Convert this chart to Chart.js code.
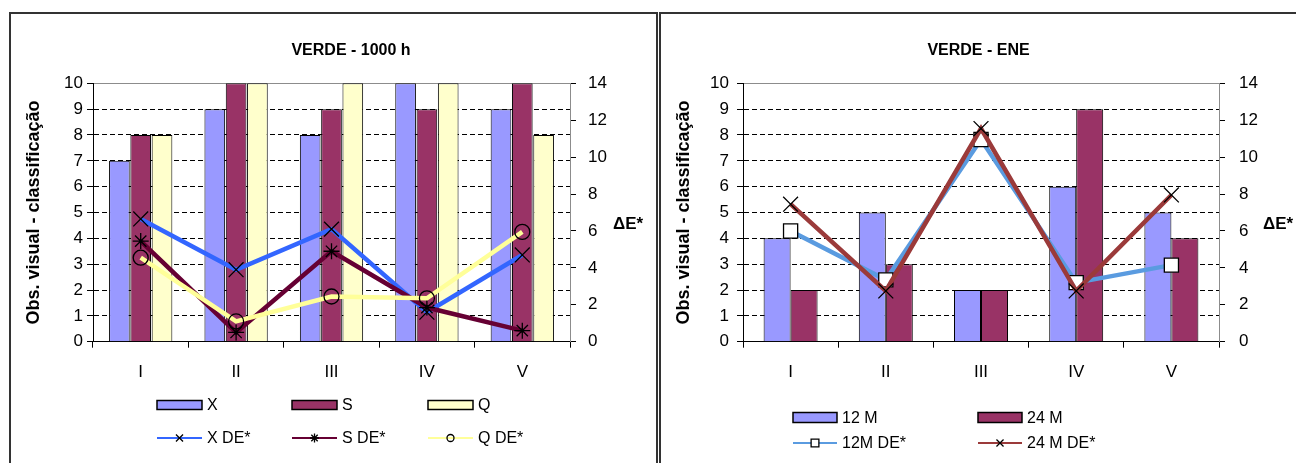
<!DOCTYPE html>
<html><head><meta charset="utf-8">
<script src="https://cdn.jsdelivr.net/npm/chart.js@4.4.1/dist/chart.umd.min.js"></script>
<style>
html,body{margin:0;padding:0;background:#fff;width:1296px;height:463px;overflow:hidden;position:relative}
.frame{position:absolute;top:12px;height:470px;border-top:2px solid #333;border-left:2px solid #333;border-right:2px solid #333;box-sizing:border-box}
canvas{position:absolute}
</style></head><body>
<div class="frame" style="left:9px;width:649px"></div>
<div class="frame" style="left:659px;width:700px"></div>
<canvas id="c1" width="644" height="449" style="left:11px;top:14px"></canvas>
<canvas id="c2" width="635" height="449" style="left:661px;top:14px"></canvas>
<script>
// ---- data ----
const categories = ['I', 'II', 'III', 'IV', 'V'];
const leftTitle = 'VERDE - 1000 h';
const rightTitle = 'VERDE - ENE';
const leftBarX = [7, 9, 8, 10, 9];
const leftBarS = [8, 10, 9, 9, 10];
const leftBarQ = [8, 10, 10, 10, 8];
const leftDeX = [6.65, 3.9, 6.1, 1.6, 4.7];
const leftDeS = [5.45, 0.5, 4.9, 1.85, 0.6];
const leftDeQ = [4.55, 1.1, 2.45, 2.35, 5.95];
const rightBar12 = [4, 5, 2, 6, 5];
const rightBar24 = [2, 3, 2, 9, 4];
const rightDe12 = [6.0, 3.35, 10.95, 3.2, 4.15];
const rightDe24 = [7.45, 2.75, 11.55, 2.75, 7.95];
const obsMax = 10, obsStep = 1;
const deMax = 14, deStep = 2;
const yTitle = 'Obs. visual - classificação';
const deTitle = 'ΔE*';

const FONT = '"Liberation Sans", Arial, Helvetica, sans-serif';

function drawMarker(ctx, style, x, y, r, bg) {
  if (Chart.helpers && Chart.helpers.drawPoint) {
    ctx.fillStyle = bg || 'transparent';
    Chart.helpers.drawPoint(ctx, {pointStyle: style, radius: r, borderWidth: ctx.lineWidth, rotation: 0}, x, y);
  }
}

const deco = {
  id: 'deco',
  afterDraw(chart, args, opts) {
    const ctx = chart.ctx;
    ctx.save();
    ctx.fillStyle = '#000';
    ctx.font = 'bold 17px ' + FONT;
    ctx.textBaseline = 'middle';
    ctx.textAlign = 'left';
    ctx.fillText(opts.rightTitle, opts.rtX, opts.rtY);
    ctx.font = '16px ' + FONT;
    opts.items.forEach(it => {
      const ds = chart.data.datasets[it.index];
      const x = it.x, y = it.y, w = opts.boxW, h = opts.boxH;
      if (ds.type === 'line') {
        ctx.strokeStyle = ds.borderColor;
        ctx.lineWidth = 2;
        ctx.beginPath(); ctx.moveTo(x, y); ctx.lineTo(x + w, y); ctx.stroke();
        ctx.strokeStyle = '#000';
        ctx.lineWidth = 1.3;
        drawMarker(ctx, ds.pointStyle, x + w / 2, y, it.r, ds.pointBackgroundColor);
      } else {
        ctx.fillStyle = ds.backgroundColor;
        ctx.fillRect(x, y - h / 2, w, h);
        ctx.strokeStyle = '#000';
        ctx.lineWidth = 1.5;
        ctx.strokeRect(x, y - h / 2, w, h);
      }
      ctx.fillStyle = '#000';
      ctx.fillText(ds.label, x + w + 5, y + 1);
    });
    ctx.restore();
  }
};

function makeOptions(cfg) {
  return {
    responsive: false, animation: false, devicePixelRatio: 1,
    events: [],
    layout: {padding: {left: cfg.padLeft, right: 0, top: 0, bottom: 0}},
    plugins: {
      legend: {display: false},
      tooltip: {enabled: false},
      title: {display: true, text: cfg.title, color: '#000',
        font: {family: FONT, size: 16, weight: 'bold'}, padding: {top: 27.4, bottom: 22.7}},
      deco: cfg.deco
    },
    scales: {
      x: {
        type: 'category', offset: true,
        grid: {offset: true, drawOnChartArea: false, drawTicks: true, tickLength: 6, tickColor: '#000', color: '#000'},
        border: {color: '#000', width: 1},
        ticks: {color: '#000', font: {family: FONT, size: 17}, padding: 14.5, maxRotation: 0},
        afterFit(s) { s.height = 121.3; }
      },
      y: {
        position: 'left', min: 0, max: obsMax,
        ticks: {stepSize: obsStep, color: '#000', font: {family: FONT, size: 17}, padding: cfg.yPad},
        grid: {color: c => (c.tick && c.tick.value === obsMax) ? '#8c8c8c' : '#000', tickColor: '#000', tickLength: 6, lineWidth: 1},
        border: {color: '#000', width: 1, dash: c => (c.tick && c.tick.value === obsMax) ? [] : [5, 3]},
        title: {display: true, text: yTitle, color: '#000', font: {family: FONT, size: 18, weight: 'bold'}, padding: {top: cfg.ytPad, bottom: 0}},
        afterFit(s) { s.width = cfg.yWidth; }
      },
      y1: {
        position: 'right', min: 0, max: deMax,
        ticks: {stepSize: deStep, color: '#000', font: {family: FONT, size: 17}, padding: cfg.y1Pad},
        grid: {drawOnChartArea: false, tickColor: '#000', tickLength: 6, color: '#000'},
        border: {color: '#8c8c8c', width: 1},
        afterFit(s) { s.width = cfg.y1Width; }
      }
    }
  };
}

function lineDs(label, data, color, style, r, bg, order) {
  return {type: 'line', label, data, yAxisID: 'y1', borderColor: color, borderWidth: 4.5,
    pointStyle: style, pointRadius: r, pointBorderColor: '#000', pointBackgroundColor: bg,
    pointBorderWidth: 1.3, tension: 0, order, fill: false};
}
function barDs(label, data, color, cp, bp) {
  return {type: 'bar', label, data, yAxisID: 'y', backgroundColor: color, borderColor: '#000',
    borderWidth: 1, order: 10, categoryPercentage: cp, barPercentage: bp};
}

new Chart(document.getElementById('c1'), {
  type: 'bar',
  data: {
    labels: categories,
    datasets: [
      barDs('X', leftBarX, '#9999FF', 0.67, 0.97),
      barDs('S', leftBarS, '#993366', 0.67, 0.97),
      barDs('Q', leftBarQ, '#FFFFCC', 0.67, 0.97),
      lineDs('X DE*', leftDeX, '#3366FF', 'crossRot', 10.5, 'transparent', 3),
      lineDs('S DE*', leftDeS, '#660033', 'star', 8, 'transparent', 2),
      lineDs('Q DE*', leftDeQ, '#FFFF99', 'circle', 7.5, 'transparent', 1)
    ]
  },
  options: makeOptions({
    title: leftTitle, padLeft: 36, yWidth: 46, ytPad: -23.3, yPad: 4, y1Pad: 12, y1Width: 85,
    deco: {rightTitle: deTitle, rtX: 602, rtY: 210, boxW: 45, boxH: 9, items: [
      {index: 0, x: 146, y: 391}, {index: 1, x: 281, y: 391}, {index: 2, x: 417, y: 391},
      {index: 3, x: 146, y: 424, r: 5}, {index: 4, x: 281, y: 424, r: 4.5}, {index: 5, x: 417, y: 424, r: 3.5}
    ]}
  }),
  plugins: [deco]
});

new Chart(document.getElementById('c2'), {
  type: 'bar',
  data: {
    labels: categories,
    datasets: [
      barDs('12 M', rightBar12, '#9999FF', 0.567, 1.0),
      barDs('24 M', rightBar24, '#993366', 0.567, 1.0),
      lineDs('12M DE*', rightDe12, '#5A9BE0', 'rect', 10, '#FFFFFF', 2),
      lineDs('24 M DE*', rightDe24, '#9B3A3A', 'crossRot', 10.5, 'transparent', 1)
    ]
  },
  options: makeOptions({
    title: rightTitle, padLeft: 0, yWidth: 82, ytPad: 12.2, yPad: 8, y1Pad: 14, y1Width: 77,
    deco: {rightTitle: deTitle, rtX: 602, rtY: 210, boxW: 44, boxH: 10, items: [
      {index: 0, x: 132, y: 403.5}, {index: 1, x: 317, y: 403.5},
      {index: 2, x: 132, y: 429, r: 5.5}, {index: 3, x: 317, y: 429, r: 5}
    ]}
  }),
  plugins: [deco]
});
</script>
</body></html>
